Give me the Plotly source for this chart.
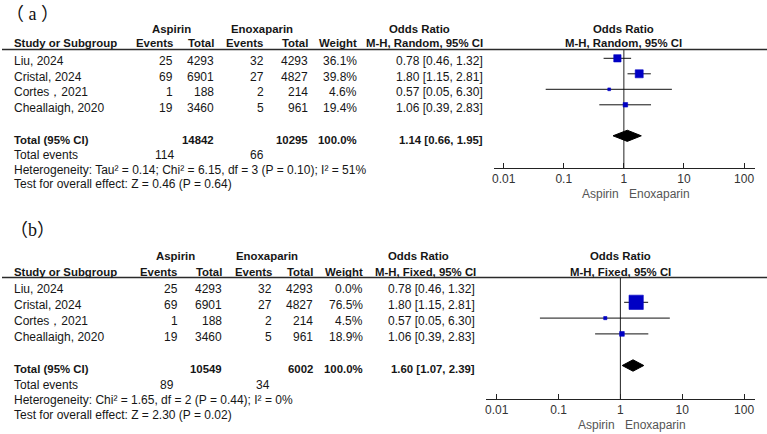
import plotly.graph_objects as go

W, H = 767, 434

# ---------------- data ----------------
studies = ["Liu, 2024", "Cristal, 2024", "Cortes，2021", "Cheallaigh, 2020"]
aspirin_events = [25, 69, 1, 19]
aspirin_total = [4293, 6901, 188, 3460]
enox_events = [32, 27, 2, 5]
enox_total = [4293, 4827, 214, 961]
odds_ratio = [0.78, 1.80, 0.57, 1.06]
ci_low = [0.46, 1.15, 0.05, 0.39]
ci_high = [1.32, 2.81, 6.30, 2.83]

weight_random = [36.1, 39.8, 4.6, 19.4]
weight_fixed = [0.0, 76.5, 4.5, 18.9]
total_weight = 100.0

pooled_random = [1.14, 0.66, 1.95]
pooled_fixed = [1.60, 1.07, 2.39]
totals_random = [14842, 10295]
totals_fixed = [10549, 6002]
events_random = [114, 66]
events_fixed = [89, 34]
het_random = "Heterogeneity: Tau² = 0.14; Chi² = 6.15, df = 3 (P = 0.10); I² = 51%"
het_fixed = "Heterogeneity: Chi² = 1.65, df = 2 (P = 0.44); I² = 0%"
effect_random = "Test for overall effect: Z = 0.46 (P = 0.64)"
effect_fixed = "Test for overall effect: Z = 2.30 (P = 0.02)"
tick_vals = [0.01, 0.1, 1, 10, 100]
tick_text = ["0.01", "0.1", "1", "10", "100"]

# ---------------- styles / layout ----------------
FONT = "Liberation Sans, Arial, sans-serif"
TXT = "#161616"
BLUE = "#0000C4"

panels = [
    dict(label="（ a ）", title_x=4, title_size=18, method="M-H, Random, 95% CI", weights=weight_random,
         pooled=pooled_random, totals=totals_random, events=events_random,
         het=het_random, effect=effect_random,
         msize=[7.3, 8, 2.8, 4.5],
         xa="x", ya="y", xaxis="xaxis", yaxis="yaxis",
         title_y=14, h1=29, h2=43, line_y=49.5, axis_y=168,
         row0=58.3, step=15.5, text_dy=2.7, total_y=139.5, tev_y=155, het_y=169.5, eff_y=184,
         col=dict(ae=171, at=213, ee=263, et=307, w=356, ci=482, ev1=172, ev2=263),
         hdr=dict(asp=170, enox=261, orc=419, ev1=171, tot1=213, ev2=262, tot2=307, w=356, mh=482),
         x_left=493, x_right=755, dec0=503, dec=60.25, plot_hdr=623, sub_y=194, ax_lab_y=179),
    dict(label="（b）", title_x=8, title_size=18, method="M-H, Fixed, 95% CI", weights=weight_fixed,
         pooled=pooled_fixed, totals=totals_fixed, events=events_fixed,
         het=het_fixed, effect=effect_fixed,
         msize=[0, 14.3, 3.2, 4.7],
         xa="x2", ya="y2", xaxis="xaxis2", yaxis="yaxis2",
         title_y=230, h1=256, h2=272, line_y=277.5, axis_y=399,
         row0=286.5, step=15.8, text_dy=2.6, total_y=369.3, tev_y=385, het_y=400, eff_y=415,
         col=dict(ae=176, at=221, ee=271, et=312, w=362, ci=474, ev1=172, ev2=269),
         hdr=dict(asp=174, enox=266, orc=418, ev1=175, tot1=221, ev2=271, tot2=312, w=362, mh=475),
         x_left=485, x_right=755, dec0=496, dec=62, plot_hdr=620, sub_y=425, ax_lab_y=411),
]


def ann(x, y, text, anchor="left", bold=False, size=12, color=TXT, family=FONT):
    return dict(x=x / W, y=1 - y / H, xref="paper", yref="paper",
                text=f"<b>{text}</b>" if bold else text, showarrow=False,
                xanchor=anchor, yanchor="middle", borderpad=0, borderwidth=0,
                font=dict(size=size, color=color, family=family))


fig = go.Figure()
annotations = []
shapes = []
layout_axes = {}
BS = 11.4  # bold header size

for p in panels:
    c, hd = p["col"], p["hdr"]
    # title
    annotations.append(ann(p["title_x"], p["title_y"], p["label"], size=p["title_size"], color="#111",
                           family="Liberation Serif, Noto Sans CJK SC, serif"))
    # header row 1
    annotations.append(ann(hd["asp"], p["h1"], "Aspirin", "center", True, BS))
    annotations.append(ann(hd["enox"], p["h1"], "Enoxaparin", "center", True, BS))
    annotations.append(ann(hd["orc"], p["h1"], "Odds Ratio", "center", True, BS))
    annotations.append(ann(p["plot_hdr"], p["h1"], "Odds Ratio", "center", True, BS))
    # header row 2
    annotations.append(ann(12, p["h2"], "Study or Subgroup", "left", True, BS))
    annotations.append(ann(hd["ev1"], p["h2"], "Events", "right", True, BS))
    annotations.append(ann(hd["tot1"], p["h2"], "Total", "right", True, BS))
    annotations.append(ann(hd["ev2"], p["h2"], "Events", "right", True, BS))
    annotations.append(ann(hd["tot2"], p["h2"], "Total", "right", True, BS))
    annotations.append(ann(hd["w"], p["h2"], "Weight", "right", True, BS))
    annotations.append(ann(hd["mh"], p["h2"], p["method"], "right", True, BS))
    annotations.append(ann(p["plot_hdr"], p["h2"], p["method"], "center", True, BS))
    # header rule across table and plot
    shapes.append(dict(type="line", xref="paper", yref="paper", x0=0, x1=1,
                       y0=1 - p["line_y"] / H, y1=1 - p["line_y"] / H,
                       line=dict(color="#2a2a2a", width=1.3)))
    # study rows
    for i, s in enumerate(studies):
        ty = p["row0"] + p["step"] * i + p["text_dy"]
        annotations.append(ann(12, ty, s))
        annotations.append(ann(c["ae"], ty, str(aspirin_events[i]), "right"))
        annotations.append(ann(c["at"], ty, str(aspirin_total[i]), "right"))
        annotations.append(ann(c["ee"], ty, str(enox_events[i]), "right"))
        annotations.append(ann(c["et"], ty, str(enox_total[i]), "right"))
        annotations.append(ann(c["w"], ty, f"{p['weights'][i]:.1f}%", "right"))
        annotations.append(ann(c["ci"], ty, f"{odds_ratio[i]:.2f} [{ci_low[i]:.2f}, {ci_high[i]:.2f}]", "right"))
    # totals
    pr = p["pooled"]
    ty = p["total_y"]
    annotations.append(ann(12, ty, "Total (95% CI)", "left", True, BS))
    annotations.append(ann(c["at"], ty, str(p["totals"][0]), "right", True, BS))
    annotations.append(ann(c["et"], ty, str(p["totals"][1]), "right", True, BS))
    annotations.append(ann(c["w"], ty, f"{total_weight:.1f}%", "right", True, BS))
    annotations.append(ann(c["ci"], ty, f"{pr[0]:.2f} [{pr[1]:.2f}, {pr[2]:.2f}]", "right", True, BS))
    annotations.append(ann(12, p["tev_y"], "Total events"))
    annotations.append(ann(c["ev1"], p["tev_y"], str(p["events"][0]), "right"))
    annotations.append(ann(c["ev2"], p["tev_y"], str(p["events"][1]), "right"))
    annotations.append(ann(12, p["het_y"], p["het"]))
    annotations.append(ann(12, p["eff_y"], p["effect"]))

    # ---- forest plot ----
    y_bottom = (p["axis_y"] - p["row0"]) / p["step"]
    y_top = (p["line_y"] - p["row0"]) / p["step"]
    r_lo = -2 - (p["dec0"] - p["x_left"]) / p["dec"]
    r_hi = 2 + (p["x_right"] - (p["dec0"] + 4 * p["dec"])) / p["dec"]
    layout_axes[p["xaxis"]] = dict(
        type="log", domain=[p["x_left"] / W, p["x_right"] / W], range=[r_lo, r_hi],
        anchor=p["ya"], showline=True, linecolor="#222", linewidth=1,
        ticks="inside", ticklen=5, tickcolor="#222", tickwidth=1,
        tickvals=tick_vals, ticktext=tick_text, showgrid=False, zeroline=False,
        tickfont=dict(size=12, color="#333", family=FONT), fixedrange=True)
    layout_axes[p["yaxis"]] = dict(
        domain=[1 - p["axis_y"] / H, 1 - p["line_y"] / H], range=[y_bottom, y_top],
        anchor=p["xa"], visible=False, showgrid=False, zeroline=False, fixedrange=True)

    # vertical line of no effect
    fig.add_trace(go.Scatter(x=[1, 1], y=[y_top, y_bottom], mode="lines",
                             line=dict(color="#222", width=1), xaxis=p["xa"], yaxis=p["ya"],
                             hoverinfo="skip", showlegend=False))
    # CI lines
    lx, ly = [], []
    mx, my, ms = [], [], []
    for i in range(len(studies)):
        if p["weights"][i] <= 0:
            continue
        lx += [ci_low[i], ci_high[i], None]
        ly += [i, i, None]
        mx.append(odds_ratio[i])
        my.append(i)
        ms.append(p["msize"][i])
    fig.add_trace(go.Scatter(x=lx, y=ly, mode="lines", line=dict(color="#111", width=1),
                             xaxis=p["xa"], yaxis=p["ya"], hoverinfo="skip", showlegend=False))
    fig.add_trace(go.Scatter(x=mx, y=my, mode="markers",
                             marker=dict(symbol="square", size=ms, color=BLUE, opacity=1,
                                         line=dict(width=0.6, color=BLUE)),
                             xaxis=p["xa"], yaxis=p["ya"], showlegend=False))
    # pooled diamond
    dy = 0.36
    ti = len(studies) + 1
    fig.add_trace(go.Scatter(x=[pr[1], pr[0], pr[2], pr[0], pr[1]],
                             y=[ti, ti - dy, ti, ti + dy, ti], mode="lines", fill="toself",
                             fillcolor="#000", line=dict(color="#000", width=1),
                             xaxis=p["xa"], yaxis=p["ya"], hoverinfo="skip", showlegend=False))
    # favours labels
    annotations.append(dict(x=0, xref=p["xa"], y=1 - p["sub_y"] / H, yref="paper",
                            text="Aspirin", showarrow=False, xanchor="right", yanchor="middle",
                            xshift=-5, borderpad=0, borderwidth=0,
                            font=dict(size=12, color="#555", family=FONT)))
    annotations.append(dict(x=0, xref=p["xa"], y=1 - p["sub_y"] / H, yref="paper",
                            text="Enoxaparin", showarrow=False, xanchor="left", yanchor="middle",
                            xshift=5, borderpad=0, borderwidth=0,
                            font=dict(size=12, color="#555", family=FONT)))

fig.update_layout(
    width=W, height=H, margin=dict(l=0, r=0, t=0, b=0),
    paper_bgcolor="white", plot_bgcolor="white",
    annotations=annotations, shapes=shapes, showlegend=False,
    **layout_axes,
)

fig.write_html("out.html", config=dict(displayModeBar=False))
